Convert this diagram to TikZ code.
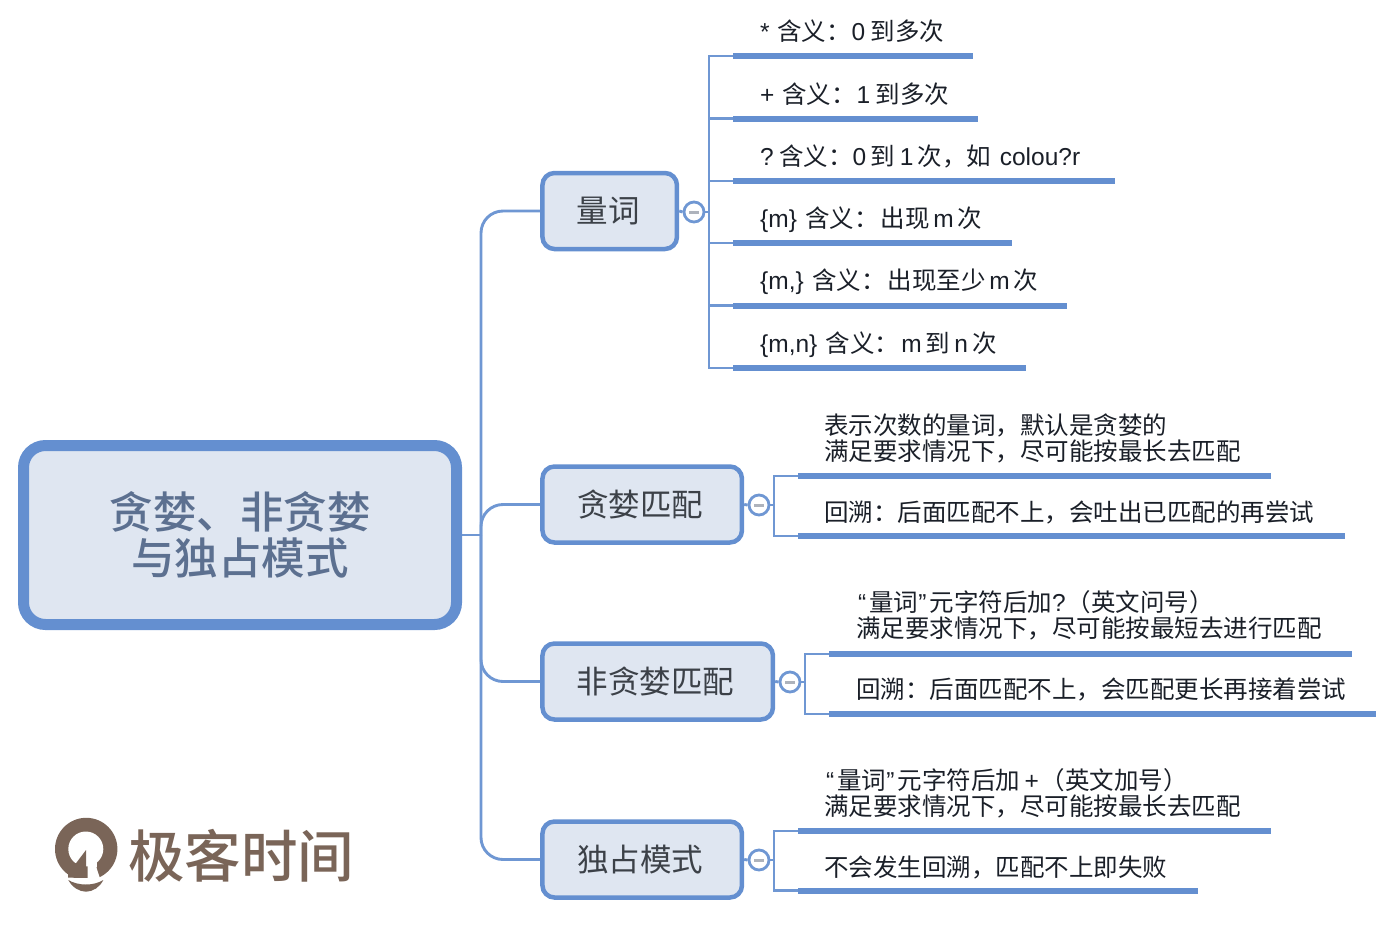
\documentclass[tikz,border=0pt]{standalone}
\usepackage{fontspec}
\setmainfont{Noto Sans CJK SC}
\newfontfamily\latf{Liberation Sans}
\newfontfamily\medf{Noto Sans CJK SC Medium}
\newcommand{\La}[1]{{\latf #1}}
\definecolor{blu}{HTML}{648FD0}
\definecolor{lnk}{HTML}{6F97D3}
\definecolor{pale}{HTML}{DFE6F1}
\definecolor{slate}{HTML}{5C7090}
\definecolor{ink}{HTML}{1A1F28}
\definecolor{brn}{HTML}{7A6558}
\tikzset{
  x=1pt,y=-1pt,
  rootbox/.style={draw=blu,fill=pale,line width=11pt,rounded corners=22pt,minimum width=433pt,minimum height=179pt,inner sep=0pt,align=center,text=slate,font=\fontsize{43.5}{46.5}\selectfont\medf},
  topic/.style={draw=blu,fill=pale,line width=4.5pt,rounded corners=12pt,minimum height=76pt,inner sep=0pt,text=ink!85,font=\fontsize{31.5}{34}\selectfont},
  link/.style={draw=lnk,line width=2.9pt},
  fold/.style={circle,draw=lnk,line width=2.8pt,fill=white,minimum size=20pt,inner sep=0pt},
  bar/.style={fill=blu,minimum height=6pt,inner sep=0pt,anchor=west},
  leaf/.style={anchor=west,inner sep=0pt,align=left,text=ink,font=\fontsize{24.5}{26}\selectfont},
}
\newcommand{\foldmark}[1]{\draw[draw=black!22!pale,line width=3pt] ([xshift=-5pt]#1.center) -- ([xshift=5pt]#1.center);}
\begin{document}
\begin{tikzpicture}
\useasboundingbox (0,0) rectangle (1394,948);
% root and topics
\node[rootbox] (root) at (240,535) {贪婪、非贪婪\\与独占模式};
\node[topic,minimum width=134.5pt] (t1) at (609.7,211) {\kern-3pt 量词};
\node[topic,minimum width=199.5pt] (t2) at (642.2,504.5) {\kern-4pt 贪婪匹配};
\node[topic,minimum width=230.5pt] (t3) at (657.7,681.5) {\kern-4pt 非贪婪匹配};
\node[topic,minimum width=199.5pt] (t4) at (642.2,859.5) {\kern-4pt 独占模式};
% trunk
\coordinate (tk) at (481,535);
\draw[link] (root.east) -- (tk);
\foreach \t in {t1,t2,t3,t4}{\draw[link,rounded corners=22pt] (tk) |- (\t.west);}
% fold marks
\node[fold] (f1) at (694,212) {};
\node[fold] (f2) at (759,505) {};
\node[fold] (f3) at (790,682) {};
\node[fold] (f4) at (759,860) {};
\foreach \i in {1,2,3,4}{\draw[link] (t\i.east) -- (f\i.west);\foreach \n in {f\i}{\foldmark{\n}}}
% branch points
\coordinate (b1) at (709,212);
\coordinate (b2) at (774,505);
\coordinate (b3) at (805,682);
\coordinate (b4) at (774,860);
\foreach \i in {1,2,3,4}{\draw[link] (f\i.east) -- (b\i);}
% leaf bars
\node[bar,minimum width=240pt] (a1) at (733,56) {};
\node[bar,minimum width=245pt] (a2) at (733,118.5) {};
\node[bar,minimum width=382pt] (a3) at (733,181) {};
\node[bar,minimum width=279pt] (a4) at (733,243) {};
\node[bar,minimum width=334pt] (a5) at (733,305.5) {};
\node[bar,minimum width=293pt] (a6) at (733,368) {};
\node[bar,minimum width=473pt] (c1) at (798,476) {};
\node[bar,minimum width=547pt] (c2) at (798,536) {};
\node[bar,minimum width=523pt] (d1) at (829,654) {};
\node[bar,minimum width=547pt] (d2) at (829,714) {};
\node[bar,minimum width=473pt] (e1) at (798,831) {};
\node[bar,minimum width=400pt] (e2) at (798,890.5) {};
\foreach \n in {a1,a2,a3,a4,a5,a6}{\draw[link] (b1) |- (\n.west);}
\foreach \n in {c1,c2}{\draw[link] (b2) |- (\n.west);}
\foreach \n in {d1,d2}{\draw[link] (b3) |- (\n.west);}
\foreach \n in {e1,e2}{\draw[link] (b4) |- (\n.west);}
% leaf texts
\node[leaf] (ta1) at (760,31) {\La{*}\kern2pt{} 含义：\kern1pt\La{0} 到多次};
\node[leaf] (ta2) at (760,94) {\La{+}\kern2pt{} 含义：\kern1pt\La{1} 到多次};
\node[leaf] (ta3) at (760,156) {\La{?}\kern-2pt{} 含义：\La{0}\kern-1pt{} 到\kern-1pt{} \La{1}\kern-1pt{} 次，如\kern3pt{} {\latf colou?r}};
\node[leaf] (ta4) at (760,220) {\La{\{m\}}\kern3pt{} 含义：\kern2pt 出现\kern-2pt{} \La{m}\kern-2pt{} 次};
\node[leaf] (ta5) at (760,282) {\La{\{m,\}}\kern3pt{} 含义：\kern2pt 出现至少\kern-2pt{} \La{m}\kern-2pt{} 次};
\node[leaf] (ta6) at (760,345) {\La{\{m,n\}}\kern3pt{} 含义：\kern2pt\La{m}\kern-2pt{} 到\kern-1pt{} \La{n}\kern-1pt{} 次};
\node[leaf] (tc1) at (824,438) {表示次数的量词，默认是贪婪的\\满足要求情况下，尽可能按最长去匹配};
\node[leaf] (tc2) at (824,512) {回溯：后面匹配不上，会吐出已匹配的再尝试};
\node[leaf] (td1) at (856,615.5) {\kern2pt\La{“}\kern3pt 量词\La{”}\kern3pt 元字符后加\La{?}\kern1pt（英文问号）\\满足要求情况下，尽可能按最短去进行匹配};
\node[leaf] (td2) at (856,689) {回溯：后面匹配不上，会匹配更长再接着尝试};
\node[leaf] (te1) at (824,793.5) {\kern2pt\La{“}\kern3pt 量词\La{”}\kern3pt 元字符后加\kern-1pt{} \La{+}\kern2pt（英文加号）\\满足要求情况下，尽可能按最长去匹配};
\node[leaf] (te2) at (824,867) {不会发生回溯，匹配不上即失败};
% logo
\begin{scope}
\clip (40,810) rectangle (125,877.5);
\fill[brn] (86.2,849) circle (31.2);
\end{scope}
\fill[white] (85.8,849) circle (17.5);
\fill[brn] (76,863.3) -- (86,850) -- (86,877.5) -- (68,877.5) -- (68,862) -- cycle;
\fill[white] (87.5,850) -- (87.5,880) -- (100.5,880) -- (96.7,868.3) -- (97,860) -- cycle;
\fill[brn] (68.3,880) .. controls (78,886) and (94,886) .. (103.3,880) .. controls (100,887) and (93,891.7) .. (86,891.7) .. controls (79,891.7) and (72,887) .. (68.3,880) -- cycle;
\node[inner sep=0pt,text=brn,font=\fontsize{56.5}{57}\selectfont\medf] (logo) at (241,856) {极客时间};
\end{tikzpicture}
\end{document}
